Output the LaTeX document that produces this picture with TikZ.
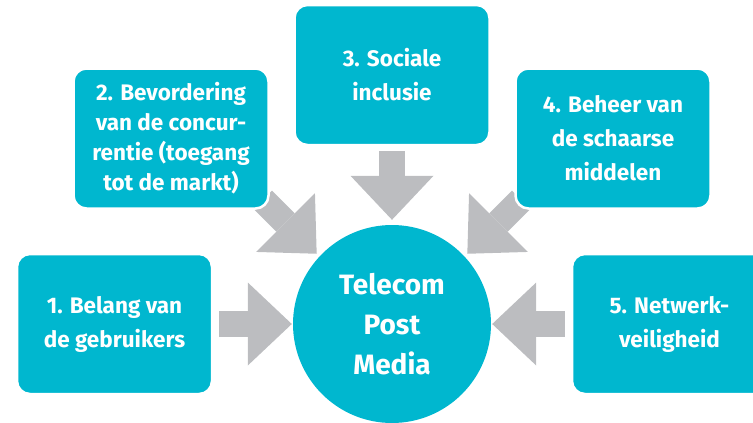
\documentclass[tikz,border=0pt]{standalone}
\usepackage{fontspec}
\setmainfont{Fira Sans}
\usetikzlibrary{arrows.meta}
\definecolor{telecomblue}{RGB}{0,183,207}
\definecolor{arrowgray}{RGB}{188,189,192}
\pgfdeclarelayer{back}
\pgfsetlayers{back,main}

\begin{document}
\begin{tikzpicture}[x=1pt, y=-1pt,
  themebox/.style={rectangle, rounded corners=13pt, fill=telecomblue, draw=white, line width=2.5pt,
    minimum width=195pt, minimum height=140pt, inner sep=0pt, align=center, text=white,
    font=\bfseries\fontsize{22.5}{34}\selectfont, execute at begin node={\rule{0pt}{25pt}}},
  hubcircle/.style={circle, fill=telecomblue, minimum size=198pt, inner sep=0pt, align=center,
    text=white, font=\bfseries\fontsize{28}{40}\selectfont},
  bigarrow/.style={arrowgray, line width=26pt, -{Triangle[length=44pt, width=83pt, line width=0pt]}}
]

% Frame
\useasboundingbox (0,0) rectangle (753,423);
\clip (0,0) rectangle (753,423);

% Centre
\node[hubcircle] (hub) at (392,324) {Telecom\\Post\\Media};

% Themes
\node[themebox] (belang) at (114.5,324) {1. Belang van\\de gebruikers};
\node[themebox, font=\bfseries\fontsize{22.5}{30}\selectfont] (concurrentie) at (171,138.5)
  {2. Bevordering\\van de concur-\\rentie (toegang\\tot de markt)};
\node[themebox] (inclusie) at (392,75) {3. Sociale\\inclusie};
\node[themebox] (middelen) at (613,138.5) {4. Beheer van\\de schaarse\\middelen};
\node[themebox] (veiligheid) at (669.5,324) {5. Netwerk-\\veiligheid};

% Arrow ends near the circle
\coordinate (tipL) at ([shift={(137:103pt)}]hub.center);
\coordinate (tipR) at ([shift={(43:103pt)}]hub.center);

% Arrows behind the boxes
\begin{pgfonlayer}{back}
\draw[bigarrow] ([xshift=6pt]belang.east) -- ([xshift=-1pt]hub.west);
\draw[bigarrow] ([shift={(-7pt,10pt)}]concurrentie.south east) -- (tipL);
\draw[bigarrow] ([yshift=-5pt]inclusie.south) -- ([yshift=5pt]hub.north);
\draw[bigarrow] ([shift={(7pt,10pt)}]middelen.south west) -- (tipR);
\draw[bigarrow] ([xshift=-6pt]veiligheid.west) -- ([xshift=1pt]hub.east);
\end{pgfonlayer}

\end{tikzpicture}
\end{document}
